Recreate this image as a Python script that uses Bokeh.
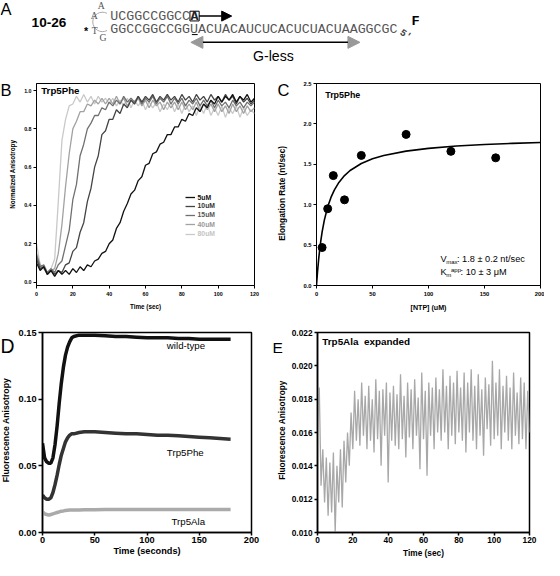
from bokeh.plotting import figure
from bokeh.layouts import column, row
from bokeh.models import (Range1d, FixedTicker, PrintfTickFormatter, Label, Legend,
                          LegendItem, Arrow, NormalHead)
from bokeh.embed import file_html
from bokeh.resources import INLINE

FONT = "Liberation Sans"
MONO = "Liberation Mono"
S = 544 / 560


def px(v):
    return f"{v * S:.1f}px"


# ---------------- data ----------------
# Panel B: normalized anisotropy vs time (sec), sampled every 2 s
B_TIME = list(range(0, 121, 2))
B_5UM = [0.10, 0.06, 0.08, 0.04, 0.06, 0.03, 0.06, 0.04, 0.06, 0.04,
         0.07, 0.05, 0.08, 0.06, 0.09, 0.08, 0.11, 0.12, 0.15, 0.16,
         0.20, 0.22, 0.28, 0.31, 0.37, 0.41, 0.46, 0.48, 0.53, 0.55,
         0.61, 0.62, 0.67, 0.68, 0.72, 0.73, 0.77, 0.77, 0.81, 0.81,
         0.85, 0.84, 0.88, 0.87, 0.91, 0.89, 0.93, 0.91, 0.95, 0.93,
         0.97, 0.94, 0.97, 0.95, 0.98, 0.94, 0.97, 0.95, 0.98, 0.94,
         0.96]
B_10UM = [0.12, 0.07, 0.08, 0.04, 0.06, 0.04, 0.06, 0.05, 0.09, 0.10,
          0.16, 0.18, 0.26, 0.31, 0.42, 0.49, 0.60, 0.66, 0.77, 0.79,
          0.85, 0.85, 0.90, 0.88, 0.93, 0.91, 0.95, 0.93, 0.97, 0.94,
          0.97, 0.95, 0.98, 0.94, 0.97, 0.95, 0.98, 0.95, 0.97, 0.94,
          0.98, 0.95, 0.97, 0.94, 0.98, 0.95, 0.97, 0.94, 0.98, 0.95,
          0.97, 0.94, 0.98, 0.95, 0.97, 0.93, 0.97, 0.94, 0.96, 0.93,
          0.95]
B_15UM = [0.14, 0.08, 0.09, 0.05, 0.07, 0.05, 0.09, 0.11, 0.19, 0.27,
          0.43, 0.51, 0.66, 0.72, 0.80, 0.83, 0.87, 0.87, 0.91, 0.90,
          0.94, 0.92, 0.95, 0.93, 0.97, 0.94, 0.96, 0.94, 0.97, 0.93,
          0.96, 0.94, 0.97, 0.93, 0.96, 0.94, 0.97, 0.93, 0.96, 0.93,
          0.96, 0.92, 0.95, 0.93, 0.96, 0.92, 0.95, 0.92, 0.95, 0.91,
          0.95, 0.92, 0.94, 0.91, 0.95, 0.92, 0.94, 0.91, 0.94, 0.92,
          0.94]
B_40UM = [0.15, 0.09, 0.07, 0.04, 0.06, 0.07, 0.15, 0.30, 0.50, 0.67,
          0.80, 0.84, 0.89, 0.89, 0.93, 0.92, 0.95, 0.93, 0.96, 0.93,
          0.96, 0.93, 0.97, 0.93, 0.96, 0.92, 0.95, 0.93, 0.96, 0.92,
          0.95, 0.91, 0.95, 0.92, 0.94, 0.90, 0.94, 0.91, 0.94, 0.90,
          0.94, 0.90, 0.93, 0.90, 0.94, 0.89, 0.93, 0.90, 0.93, 0.89,
          0.93, 0.89, 0.92, 0.88, 0.93, 0.89, 0.92, 0.88, 0.92, 0.89,
          0.91]
B_80UM = [0.20, 0.09, 0.08, 0.05, 0.07, 0.12, 0.42, 0.74, 0.85, 0.92,
          0.93, 0.97, 0.94, 0.98, 0.94, 0.97, 0.93, 0.97, 0.94, 0.96,
          0.93, 0.96, 0.92, 0.95, 0.92, 0.96, 0.91, 0.95, 0.92, 0.95,
          0.90, 0.94, 0.91, 0.94, 0.89, 0.93, 0.90, 0.94, 0.89, 0.93,
          0.88, 0.93, 0.89, 0.92, 0.87, 0.92, 0.88, 0.93, 0.87, 0.91,
          0.87, 0.92, 0.86, 0.91, 0.88, 0.92, 0.86, 0.91, 0.87, 0.90,
          0.88]
B_LABELS = ["5uM", "10uM", "15uM", "40uM", "80uM"]

# Panel C: elongation rate vs [NTP]
C_NTP = [5, 10, 15, 25, 40, 80, 120, 160]
C_RATE = [0.47, 0.95, 1.36, 1.06, 1.61, 1.87, 1.66, 1.58]
C_FIT_NTP = [0, 1, 2, 3, 4, 5, 7, 10, 13, 16, 20, 25, 30, 40, 50, 60, 80, 100,
             125, 150, 175, 200]
C_FIT_RATE = [0.0, 0.185, 0.336, 0.463, 0.569, 0.661, 0.809, 0.974, 1.093, 1.184,
              1.276, 1.360, 1.423, 1.510, 1.568, 1.609, 1.663, 1.697, 1.726,
              1.745, 1.759, 1.770]

# Panel D: fluorescence anisotropy vs time (seconds)
D_TIME = [0, 2, 4, 6, 8, 10, 12, 14, 16, 18, 20, 22, 24, 26, 28, 30, 35, 40,
          50, 60, 70, 80, 90, 100, 110, 120, 130, 140, 150, 160, 170, 180]
D_WT = [0.067, 0.056, 0.053, 0.052, 0.052, 0.056, 0.066, 0.080, 0.097, 0.112,
        0.124, 0.133, 0.139, 0.143, 0.146, 0.147, 0.148, 0.148, 0.148, 0.1475,
        0.147, 0.147, 0.1465, 0.146, 0.146, 0.146, 0.1455, 0.1455, 0.145, 0.145,
        0.145, 0.145]
D_PHE = [0.028, 0.026, 0.025, 0.025, 0.026, 0.030, 0.036, 0.043, 0.051, 0.058,
         0.063, 0.068, 0.071, 0.073, 0.074, 0.074, 0.075, 0.0755, 0.0755, 0.075,
         0.0745, 0.074, 0.074, 0.0735, 0.073, 0.073, 0.0725, 0.072, 0.0715, 0.071,
         0.0705, 0.070]
D_ALA = [0.0155, 0.014, 0.0135, 0.013, 0.0135, 0.014, 0.0145, 0.015, 0.0155, 0.016,
         0.0162, 0.0165, 0.0167, 0.0168, 0.0168, 0.0168, 0.0168, 0.017, 0.017, 0.0172,
         0.0172, 0.0172, 0.0172, 0.0172, 0.0173, 0.0173, 0.0173, 0.0172, 0.0172, 0.0172,
         0.0172, 0.0172]

# Panel E: Trp5Ala expanded, every 1 s
E_TIME = list(range(0, 121))
E_ALA = [0.0160, 0.0187, 0.0128, 0.0150, 0.0118, 0.0145, 0.0110, 0.0142, 0.0112, 0.0148,
         0.0100, 0.0140, 0.0118, 0.0150, 0.0115, 0.0155, 0.0130, 0.0160, 0.0140, 0.0172,
         0.0150, 0.0185, 0.0155, 0.0180, 0.0152, 0.0190, 0.0158, 0.0182, 0.0150, 0.0188,
         0.0155, 0.0180, 0.0148, 0.0192, 0.0156, 0.0185, 0.0140, 0.0186, 0.0158, 0.0190,
         0.0130, 0.0184, 0.0155, 0.0188, 0.0152, 0.0183, 0.0150, 0.0195, 0.0156, 0.0182,
         0.0145, 0.0190, 0.0157, 0.0186, 0.0150, 0.0192, 0.0158, 0.0181, 0.0138, 0.0196,
         0.0156, 0.0185, 0.0134, 0.0190, 0.0158, 0.0187, 0.0150, 0.0193, 0.0160, 0.0186,
         0.0155, 0.0198, 0.0160, 0.0188, 0.0150, 0.0194, 0.0158, 0.0190, 0.0153, 0.0197,
         0.0160, 0.0187, 0.0155, 0.0196, 0.0148, 0.0190, 0.0160, 0.0198, 0.0155, 0.0188,
         0.0150, 0.0195, 0.0158, 0.0186, 0.0146, 0.0193, 0.0162, 0.0189, 0.0152, 0.0203,
         0.0156, 0.0190, 0.0158, 0.0198, 0.0150, 0.0188, 0.0160, 0.0194, 0.0155, 0.0187,
         0.0150, 0.0196, 0.0158, 0.0184, 0.0153, 0.0193, 0.0156, 0.0190, 0.0150, 0.0185,
         0.0160]


# ---------------- helpers ----------------
def make_fig(w, h, left, right, top, bottom, xr, yr):
    p = figure(width=w, height=h, x_range=Range1d(*xr), y_range=Range1d(*yr),
               output_backend="svg", toolbar_location=None, tools="",
               min_border_left=left, min_border_right=right,
               min_border_top=top, min_border_bottom=bottom)
    p.xgrid.visible = False
    p.ygrid.visible = False
    p.outline_line_color = "black"
    p.outline_line_width = 1
    return p


def make_strip(w, h):
    s = figure(width=w, height=h, x_range=Range1d(0, w), y_range=Range1d(0, h),
               output_backend="svg", toolbar_location=None, tools="",
               x_axis_location=None, y_axis_location=None, min_border=0)
    s.xgrid.visible = False
    s.ygrid.visible = False
    s.outline_line_color = None
    return s


def style_axis(ax, ticks, fmt, label, tick_font, label_font, tick_out, standoff,
               label_standoff, lw=1.0):
    ax.ticker = FixedTicker(ticks=ticks)
    if fmt:
        ax.formatter = PrintfTickFormatter(format=fmt)
    ax.axis_label = label
    ax.axis_label_text_font = FONT
    ax.axis_label_text_font_style = "bold"
    ax.axis_label_text_font_size = px(label_font)
    ax.axis_label_text_color = "black"
    ax.axis_label_standoff = label_standoff
    ax.major_label_text_font = FONT
    ax.major_label_text_font_style = "bold"
    ax.major_label_text_font_size = px(tick_font)
    ax.major_label_text_color = "black"
    ax.major_label_standoff = standoff
    ax.major_tick_out = tick_out
    ax.major_tick_in = 0
    ax.minor_tick_out = 0
    ax.minor_tick_in = 0
    ax.axis_line_width = lw
    ax.major_tick_line_width = lw
    ax.axis_line_color = "black"
    ax.major_tick_line_color = "black"


def txt(p, x, y, t, size, style="normal", color="black", xo=0, yo=0, font=FONT,
        angle=0, align="left"):
    p.add_layout(Label(x=x, y=y, text=t, text_font=font, text_font_size=px(size),
                       text_font_style=style, text_color=color, text_align=align,
                       text_baseline="middle", x_offset=xo, y_offset=yo,
                       angle=angle, angle_units="deg"))


# ---------------- Panel A (diagram) ----------------
pa = figure(width=544, height=74, x_range=Range1d(0, 560), y_range=Range1d(76, 0),
            output_backend="svg", toolbar_location=None, tools="",
            x_axis_location=None, y_axis_location=None, min_border=0)
pa.xgrid.visible = False
pa.ygrid.visible = False
pa.outline_line_color = None

txt(pa, 0, 8.5, "A", 17)
txt(pa, 32, 23, "10-26", 14, "bold")
pa.arc(x=[105], y=[22], radius=10, start_angle=1.1, end_angle=5.2,
       direction="anticlock", line_color="#aaaaaa", line_width=1)
txt(pa, 100, 5, "A", 10, color="#555555", font="Liberation Serif")
txt(pa, 93, 15, "A", 10, color="#555555", font="Liberation Serif")
txt(pa, 94, 31, "T", 10, color="#555555", font="Liberation Serif")
txt(pa, 102, 38, "G", 10, color="#555555", font="Liberation Serif")
txt(pa, 86, 31, "*", 11, "bold")
txt(pa, 113, 16, "UCGGCCGGCC", 13.7, color="#555555", font=MONO)
txt(pa, 195.5, 16, "A", 13.7, "bold", color="#222222", font=MONO)
pa.line(x=[195, 204.5, 204.5, 195, 195], y=[11, 11, 21, 21, 11],
        line_color="black", line_width=1)
pa.add_layout(Arrow(x_start=204.5, y_start=16, x_end=238, y_end=16, line_width=1.5,
                    line_color="black",
                    end=NormalHead(size=10, fill_color="black", line_color="black")))
txt(pa, 113, 30, "GGCCGGCCGGUACUACAUCUCACUCUACUAAGGCGC", 13.7, color="#555555", font=MONO)
pa.line(x=[197, 203], y=[35, 35], line_color="black", line_width=1)
txt(pa, 412, 32, "5'", 10, "bold", color="#444444", font=MONO, angle=-35)
txt(pa, 423, 22, "F", 14, "bold", color="black", font=MONO)
pa.add_layout(Arrow(x_start=196, y_start=43, x_end=370, y_end=43, line_width=1.5,
                    line_color="black",
                    start=NormalHead(size=12, fill_color="#999999", line_color="#999999"),
                    end=NormalHead(size=12, fill_color="#999999", line_color="#999999")))
txt(pa, 260, 57, "G-less", 14.5)

# ---------------- Panel B ----------------
sb = make_strip(21, 241)
txt(sb, 0, 233.2, "B", 17)
txt(sb, 11.7, 132.7, "Normalized Anisotropy", 6.5, "bold", angle=90, align="center")

pb = make_fig(251, 241, 13, 18, 9, 30, (0, 120), (-0.018, 1.037))
style_axis(pb.xaxis[0], [0, 20, 40, 60, 80, 100, 120], None, "Time (sec)",
           5.5, 6.5, 3, 3, 4)
style_axis(pb.yaxis[0], [0.0, 0.2, 0.4, 0.6, 0.8, 1.0], "%.1f", None,
           5.5, 6.5, 3, 2, 0)
colors_b = ["#111111", "#444444", "#707070", "#a2a2a2", "#c9c9c9"]
text_colors_b = ["#111111", "#333333", "#555555", "#999999", "#c4c4c4"]
series_b = [B_5UM, B_10UM, B_15UM, B_40UM, B_80UM]
renderers_b = [None] * 5
for i in [4, 3, 2, 1, 0]:
    renderers_b[i] = pb.line(B_TIME, series_b[i], line_color=colors_b[i], line_width=1.3)
legend_y = [88.0, 79.3, 70.2, 60.8, 51.1]
for i in range(5):
    pb.add_layout(Legend(items=[LegendItem(label=B_LABELS[i], renderers=[renderers_b[i]])],
                         location=(148.6, legend_y[i] - 4), background_fill_alpha=0,
                         border_line_alpha=0, padding=0, margin=0, spacing=0,
                         glyph_width=10, glyph_height=8, label_height=8,
                         label_standoff=3, label_text_font=FONT,
                         label_text_font_style="bold", label_text_font_size=px(7),
                         label_text_color=text_colors_b[i]))
txt(pb, 2.6, 1.0025, "Trp5Phe", 10, "bold")

# ---------------- Panel C ----------------
sc = make_strip(24, 241)
txt(sc, 4.9, 233.2, "C", 17)
txt(sc, 9.0, 109.9, "Elongation Rate (nt/sec)", 8.5, "bold", angle=90, align="center")

pc = make_fig(248, 241, 20, 4, 6, 27, (0, 200), (0, 2.5))
style_axis(pc.xaxis[0], [0, 50, 100, 150, 200], None, "[NTP] (uM)", 6, 7.3, 3, 3, 5)
style_axis(pc.yaxis[0], [0.0, 0.5, 1.0, 1.5, 2.0, 2.5], "%.1f", None, 6, 8.5, 3, 2, 0)
pc.line(C_FIT_NTP, C_FIT_RATE, line_color="black", line_width=1.6)
pc.scatter(C_NTP, C_RATE, size=8, marker="circle", fill_color="black", line_color="black")
txt(pc, 7.8, 2.36, "Trp5Phe", 9.2, "bold")
txt(pc, 110.8, 0.327, "V", 9.5)
txt(pc, 110.8, 0.327, "max", 6.2, xo=5.6, yo=-2.5)
txt(pc, 110.8, 0.327, ": 1.8 \u00b1 0.2 nt/sec", 9.5, xo=16.4)
txt(pc, 110.8, 0.164, "K", 9.5)
txt(pc, 110.8, 0.164, "m", 6.2, xo=5.6, yo=-2.5)
txt(pc, 110.8, 0.164, "app", 6.2, xo=10.4, yo=2.5)
txt(pc, 110.8, 0.164, ": 10 \u00b1 3 \u03bcM", 9.5, xo=20)

# ---------------- Panel D ----------------
sd = make_strip(15, 245)
txt(sd, 0, 229, "D", 20)
txt(sd, 5.8, 125.5, "Fluorescence Anisotropy", 9, "bold", angle=90, align="center")

pd_ = make_fig(257, 245, 25, 21, 16, 27, (0, 200), (0, 0.15))
style_axis(pd_.xaxis[0], [0, 50, 100, 150, 200], None, "Time (seconds)", 9.5, 9.5, 3, 1, 0, 1.5)
style_axis(pd_.yaxis[0], [0.0, 0.05, 0.10, 0.15], "%.2f", None, 9.5, 9, 4, 2, 0, 1.5)
pd_.outline_line_width = 1.5
pd_.line(D_TIME, D_ALA, line_color="#aaaaaa", line_width=3.5)
pd_.line(D_TIME, D_PHE, line_color="#333333", line_width=3.5)
pd_.line(D_TIME, D_WT, line_color="#111111", line_width=3.5)
txt(pd_, 119, 0.1406, "wild-type", 10)
txt(pd_, 119, 0.0599, "Trp5Phe", 10)
txt(pd_, 123.5, 0.0079, "Trp5Ala", 10)

# ---------------- Panel E ----------------
se = make_strip(16, 245)
txt(se, 0, 227, "E", 16)
txt(se, 9.7, 125.5, "Fluorescence Anisotropy", 8.5, "bold", angle=90, align="center")

pe = make_fig(256, 245, 28, 15, 17, 27, (0, 120), (0.010, 0.022))
style_axis(pe.xaxis[0], [0, 20, 40, 60, 80, 100, 120], None, "Time (sec)", 8.5, 8.5, 3, 1, 2, 1.5)
style_axis(pe.yaxis[0], [0.010, 0.012, 0.014, 0.016, 0.018, 0.020, 0.022], "%.3f", None,
           8.5, 8.5, 3, 2, 0, 1.5)
pe.outline_line_width = 1.5
pe.line(E_TIME, E_ALA, line_color="#a8a8a8", line_width=1.3)
txt(pe, 2.7, 0.02144, "Trp5Ala\u00a0\u00a0expanded", 10.2, "bold")

layout = column(pa, row(sb, pb, sc, pc), row(sd, pd_, se, pe))
open("out.html", "w").write(file_html(layout, INLINE))
